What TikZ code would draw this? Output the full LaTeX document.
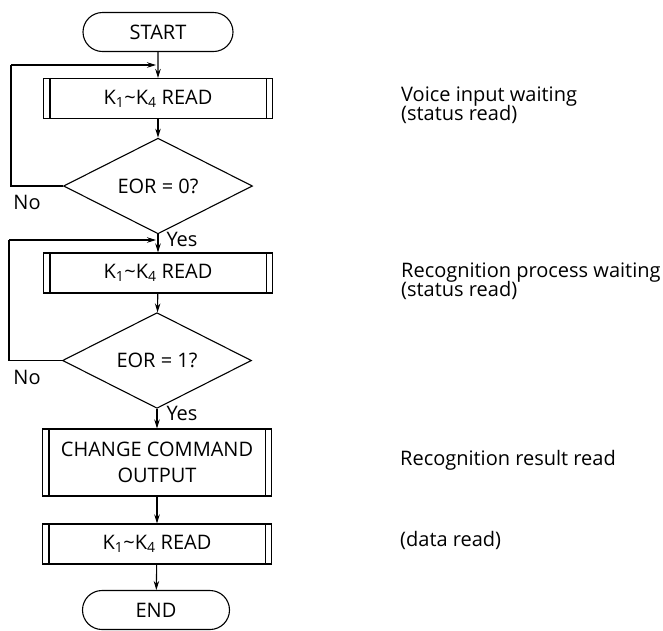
\documentclass[tikz,border=0pt]{standalone}
\usepackage{fontspec}
\setmainfont{Open Sans}
\usetikzlibrary{shapes.geometric,shapes.misc,arrows.meta}
\begin{document}
\begin{tikzpicture}[x=1pt,y=-1pt,
  every node/.style={font=\fontsize{20}{22}\selectfont, inner sep=0pt},
  line/.style={line width=1.1pt},
  arr/.style={line width=1.1pt,-{Stealth[length=9pt,width=5.5pt]}},
  term/.style={draw,line width=1.1pt,rounded rectangle,minimum width=150pt,minimum height=39pt},
  proc/.style={draw,line width=1.1pt,rectangle,minimum width=229pt,minimum height=40pt},
  dec/.style={draw,line width=1.1pt,diamond,minimum width=189pt,minimum height=79pt},
  note/.style={anchor=base west},
  lbl/.style={}]
\useasboundingbox (0,0) rectangle (663,630);
\newcommand{\kread}{K\textsubscript{1}\textasciitilde K\textsubscript{4} READ}
\node[term] (start) at (158,32) {START};
\node[proc] (p1) at (158,98.5) {\kread};
\node[dec] (d1) at (158,186) {EOR = 0?};
\node[proc] (p2) at (158,273) {\kread};
\node[dec] (d2) at (157,360.5) {EOR = 1?};
\node[proc,minimum height=67pt,align=center,font=\fontsize{20}{26}\selectfont] (p3) at (157,462.5) {CHANGE COMMAND\\OUTPUT};
\node[proc] (p4) at (157,544) {\kread};
\node[term,minimum width=147pt] (end) at (156,610) {END};
% double side lines
\foreach \n in {p1,p2,p3,p4}{
  \draw[line] ([xshift=7pt]\n.north west) -- ([xshift=7pt]\n.south west);
  \draw[line] ([xshift=-7pt]\n.north east) -- ([xshift=-7pt]\n.south east);
}
\coordinate (j1) at (158,65);
\coordinate (j2) at (158,240);
\coordinate (c1) at (11,186);
\coordinate (c2) at (9,360.5);
\draw[arr] (start) -- (p1);
\draw[arr] (p1) -- (d1);
\draw[arr] (d1) -- (p2);
\draw[arr] (p2) -- (d2);
\draw[arr] (d2.south) -- (d2.south |- p3.north);
\draw[arr] (p3.south -| p4.north) -- (p4);
\draw[arr] (p4) -- (end);
\draw[line] (d1.west) -- (c1) -- (c1 |- j1);
\draw[arr,shorten >=2pt] (c1 |- j1) -- (j1);
\draw[line] (d2.west) -- (c2) -- (c2 |- j2);
\draw[arr,shorten >=2pt] (c2 |- j2) -- (j2);
\node[lbl] (no1) at (27,202) {No};
\node[lbl] (no2) at (27,377) {No};
\node[lbl] (yes1) at (182,239) {Yes};
\node[lbl] (yes2) at (182,413) {Yes};
\node[note] (n1) at (401,101) {Voice input waiting};
\node[note] (n1b) at (401,120) {(status read)};
\node[note] (n2) at (401,277) {Recognition process waiting};
\node[note] (n2b) at (401,296) {(status read)};
\node[note] (n3) at (400,465) {Recognition result read};
\node[note] (n4) at (400,546) {(data read)};
\end{tikzpicture}
\end{document}
